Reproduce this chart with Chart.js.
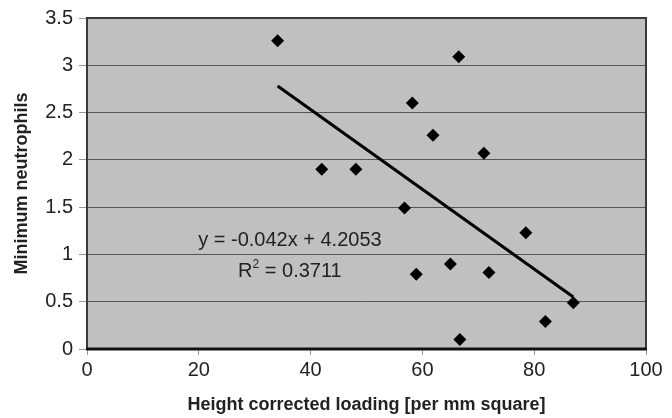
<!DOCTYPE html>
<html>
<head>
<meta charset="utf-8">
<script src="https://cdn.jsdelivr.net/npm/chart.js@4"></script>
<style>
  html, body { margin: 0; padding: 0; background: #fff; }
  #wrap { width: 672px; height: 418px; }
</style>
</head>
<body>
<div id="wrap"><canvas id="scatterChart"></canvas></div>
<script>
// data
var loading = [34.1, 66.5, 58.2, 61.9, 71.0, 42.0, 48.1, 56.8, 78.5, 65.0, 58.9, 71.9, 87.0, 82.0, 66.7];
var neutrophils = [3.26, 3.09, 2.60, 2.26, 2.07, 1.90, 1.90, 1.49, 1.23, 0.90, 0.79, 0.81, 0.49, 0.29, 0.10];
var trendX = [34.1, 87.0];
var trendY = [2.78, 0.55];
var equationText = 'y = -0.042x + 4.2053';
var rSquaredText = ' = 0.3711';

var font = "'Liberation Sans', Arial, sans-serif";
var textColor = '#222';

var points = loading.map(function (x, i) { return { x: x, y: neutrophils[i] }; });
var trend = trendX.map(function (x, i) { return { x: x, y: trendY[i] }; });

// grey plot area + frame
var plotBox = {
    id: 'plotBox',
    beforeDraw: function (chart) {
        var a = chart.chartArea, ctx = chart.ctx;
        ctx.save();
        ctx.fillStyle = '#c0c0c0';
        ctx.fillRect(a.left, a.top, a.right - a.left, a.bottom - a.top);
        ctx.restore();
    },
    beforeDatasetsDraw: function (chart) {
        var a = chart.chartArea, ctx = chart.ctx;
        ctx.save();
        ctx.strokeStyle = '#3a3a3a';
        ctx.lineWidth = 2;
        ctx.strokeRect(a.left, a.top, a.right - a.left, a.bottom - a.top);
        ctx.beginPath();
        ctx.strokeStyle = '#111';
        ctx.lineWidth = 3;
        ctx.moveTo(a.left - 1, a.bottom);
        ctx.lineTo(a.right + 1, a.bottom);
        ctx.stroke();
        ctx.restore();
    }
};

// regression equation text
var equation = {
    id: 'equation',
    afterDatasetsDraw: function (chart) {
        var ctx = chart.ctx, xs = chart.scales.x, ys = chart.scales.y;
        var cx = xs.getPixelForValue(36.3);
        ctx.save();
        ctx.fillStyle = textColor;
        ctx.font = '20px ' + font;
        ctx.textBaseline = 'alphabetic';
        ctx.textAlign = 'center';
        ctx.fillText(equationText, cx, ys.getPixelForValue(1.09));
        var y2 = ys.getPixelForValue(0.765);
        var wR = ctx.measureText('R').width;
        ctx.font = '12px ' + font;
        var w2 = ctx.measureText('2').width;
        ctx.font = '20px ' + font;
        var wRest = ctx.measureText(rSquaredText).width;
        var x0 = cx - (wR + w2 + wRest) / 2;
        ctx.textAlign = 'left';
        ctx.fillText('R', x0, y2);
        ctx.font = '12px ' + font;
        ctx.fillText('2', x0 + wR, y2 - 9);
        ctx.font = '20px ' + font;
        ctx.fillText(rSquaredText, x0 + wR + w2, y2);
        ctx.restore();
    }
};

var ctx = document.getElementById('scatterChart').getContext('2d');
var myChart = new Chart(ctx, {
    type: 'scatter',
    data: {
        datasets: [{
            label: 'Minimum neutrophils',
            data: points,
            pointStyle: 'rectRot',
            pointRadius: 6.5,
            backgroundColor: '#000',
            borderColor: '#000',
            borderWidth: 0,
            order: 1
        }, {
            type: 'line',
            label: 'Linear',
            data: trend,
            borderColor: '#000',
            borderWidth: 3,
            pointRadius: 0,
            fill: false,
            order: 0
        }]
    },
    options: {
        responsive: true,
        maintainAspectRatio: false,
        animation: false,
        layout: { padding: { top: 15, right: 26, left: 0, bottom: 0 } },
        plugins: {
            legend: { display: false },
            tooltip: { enabled: false }
        },
        scales: {
            x: {
                type: 'linear',
                min: 0,
                max: 100,
                ticks: {
                    stepSize: 20,
                    color: textColor,
                    padding: 3,
                    maxRotation: 0,
                    font: { family: font, size: 20 },
                    callback: function (v) { return String(v); }
                },
                grid: {
                    drawOnChartArea: false,
                    drawTicks: true,
                    tickLength: 6,
                    tickColor: '#999'
                },
                border: { display: false },
                title: {
                    display: true,
                    text: 'Height corrected loading [per mm square]',
                    color: textColor,
                    padding: { top: 0, bottom: 2 },
                    font: { family: font, size: 18, weight: 'bold' }
                },
                afterFit: function (scale) { scale.height = 69; }
            },
            y: {
                type: 'linear',
                min: 0,
                max: 3.5,
                ticks: {
                    stepSize: 0.5,
                    color: textColor,
                    padding: 6,
                    font: { family: font, size: 20 },
                    callback: function (v) { return String(v); }
                },
                grid: {
                    color: '#555',
                    lineWidth: 1,
                    tickLength: 8,
                    tickColor: '#999'
                },
                border: { display: false },
                title: {
                    display: true,
                    text: 'Minimum neutrophils',
                    color: textColor,
                    padding: { top: 11, bottom: 0 },
                    font: { family: font, size: 18, weight: 'bold' }
                },
                afterFit: function (scale) { scale.width = 87; }
            }
        }
    },
    plugins: [plotBox, equation]
});
</script>
</body>
</html>
